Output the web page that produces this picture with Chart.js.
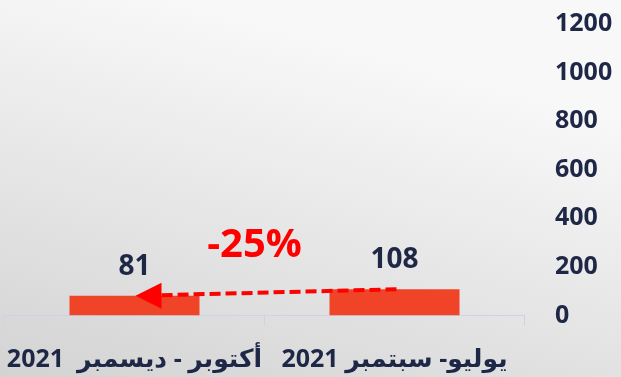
<!DOCTYPE html>
<html lang="ar">
<head>
<meta charset="utf-8">
<script src="https://cdn.jsdelivr.net/npm/chart.js@4.4.1/dist/chart.umd.min.js"></script>
<style>
  html, body { margin: 0; padding: 0; }
  body {
    width: 621px; height: 377px; overflow: hidden;
    background: linear-gradient(195deg, #f8f8f8 22%, #d3d3d3 100%);
  }
  #wrap { position: relative; width: 621px; height: 377px; }
</style>
</head>
<body>
<div id="wrap"><canvas id="chart" width="621" height="377"></canvas></div>
<script>
// Quarterly counts, oldest period first (axis is drawn right-to-left)
const periods = ['يوليو- سبتمبر 2021', 'أكتوبر - ديسمبر  2021'];
const counts = [108, 81];
const yTicks = [0, 200, 400, 600, 800, 1000, 1200];

const NAVY = '#1f2747';
const BAR = '#f04428';
const ARROW = '#ff0000';
const AXIS = '#cfd2e6';
const FONT = "'Open Sans', 'DejaVu Sans', sans-serif";

// Value labels above the bars plus the dashed change arrow between periods
const changeAnnotation = {
  id: 'changeAnnotation',
  afterDatasetsDraw(chart) {
    const ctx = chart.ctx;
    const bars = chart.getDatasetMeta(0).data;
    ctx.save();

    ctx.font = `bold 28px ${FONT}`;
    ctx.fillStyle = NAVY;
    ctx.textAlign = 'center';
    ctx.textBaseline = 'middle';
    bars.forEach((bar, i) => ctx.fillText(String(counts[i]), bar.x, bar.y - 29));

    const from = bars[0], to = bars[1];
    const dir = Math.sign(from.x - to.x) || 1;
    const headLen = 26, headHalf = 13;
    const tipX = to.x + dir * 1, tipY = to.y;
    const baseX = tipX + dir * headLen;
    const t = (baseX - from.x) / (tipX - from.x);
    const baseY = from.y + (tipY - from.y) * t;

    ctx.strokeStyle = ARROW;
    ctx.lineWidth = 4;
    ctx.setLineDash([11, 5]);
    ctx.beginPath();
    ctx.moveTo(from.x + 2, from.y);
    ctx.lineTo(baseX, baseY);
    ctx.stroke();
    ctx.setLineDash([]);

    ctx.fillStyle = ARROW;
    ctx.beginPath();
    ctx.moveTo(tipX, tipY);
    ctx.lineTo(baseX, tipY - headHalf);
    ctx.lineTo(baseX, tipY + headHalf);
    ctx.closePath();
    ctx.fill();

    const pct = Math.round((counts[1] - counts[0]) / counts[0] * 100);
    ctx.font = `bold 40px ${FONT}`;
    ctx.fillStyle = ARROW;
    ctx.textAlign = 'center';
    ctx.textBaseline = 'middle';
    ctx.fillText(`${pct}%`, (from.x + to.x) / 2 - 10, (from.y + to.y) / 2 - 47);

    ctx.restore();
  }
};

new Chart(document.getElementById('chart'), {
  type: 'bar',
  data: {
    labels: periods,
    datasets: [{
      data: counts,
      backgroundColor: BAR,
      borderWidth: 0,
      barPercentage: 0.5,
      categoryPercentage: 1
    }]
  },
  options: {
    responsive: false,
    animation: false,
    devicePixelRatio: 1,
    layout: { padding: { top: 24, left: 4.5, right: 0, bottom: 0 } },
    plugins: { legend: { display: false }, tooltip: { enabled: false } },
    scales: {
      x: {
        reverse: true,
        offset: true,
        grid: {
          display: true, offset: true, drawOnChartArea: false,
          drawTicks: true, tickLength: 10, color: AXIS, lineWidth: 1
        },
        border: { display: true, color: AXIS, width: 1 },
        ticks: {
          autoSkip: false, maxRotation: 0, padding: 19,
          color: NAVY, font: { family: FONT, size: 25, weight: 'bold' }
        },
        afterFit(scale) { scale.height = 61.5; }
      },
      y: {
        position: 'right',
        min: 0,
        max: 1200,
        afterBuildTicks(scale) { scale.ticks = yTicks.map(v => ({ value: v })); },
        grid: { display: false, drawTicks: true, tickLength: 30 },
        border: { display: false },
        ticks: {
          padding: 0.5,
          color: NAVY,
          font: { family: FONT, size: 25, weight: 'bold' },
          callback: v => String(v)
        },
        afterFit(scale) { scale.width = 96.5; }
      }
    }
  },
  plugins: [changeAnnotation]
});
</script>
</body>
</html>
